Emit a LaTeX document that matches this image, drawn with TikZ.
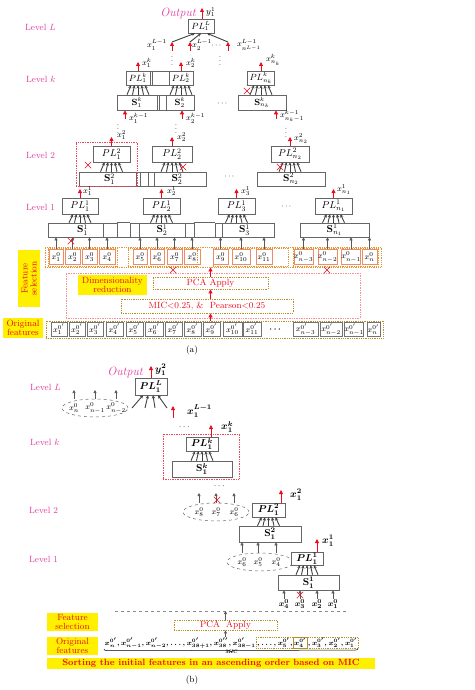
\documentclass[tikz,border=0pt]{standalone}
\usepackage{amsmath,amssymb,bm}
\usepackage{tikz}
\usetikzlibrary{arrows.meta,positioning,shapes.geometric,shapes.misc,fit,decorations.pathreplacing}
\definecolor{lvlM}{RGB}{225,60,160}
\definecolor{arrR}{RGB}{235,10,30}
\definecolor{hiY}{RGB}{255,240,0}
\definecolor{ftO}{RGB}{240,140,100}
\definecolor{grpO}{RGB}{225,150,50}
\definecolor{olvY}{RGB}{180,145,40}

% five converging arrows from a window box up into its PL box
\newcommand{\fanup}[2]{%
  \foreach \a/\b in {-11/-7,-5.5/-3.5,0/0,5.5/3.5,11/7}
    \draw[fan] ([xshift=\a]#1.south |- #2.north) -- ([xshift=\b]#1.south);}

\begin{document}
\begin{tikzpicture}[
  x=1pt, y=-1pt,
  lvl/.style={font=\small, text=lvlM, anchor=west, inner sep=0pt},
  plbox/.style={rectangle, draw=black!60, line width=0.6pt, fill=white, inner sep=0pt, minimum height=15},
  sbox/.style={rectangle, draw=black!60, line width=0.6pt, fill=white, inner sep=0pt, minimum height=14},
  boxline/.style={draw=black!60, line width=0.6pt},
  fan/.style={draw=black!75, line width=0.9pt, -{Stealth[length=3.2pt,width=3.2pt]}},
  redup/.style={draw=arrR, line width=0.8pt, -{Triangle[length=4pt,width=4pt]}},
  grayup/.style={draw=black!65, line width=0.6pt, -{Triangle[length=3pt,width=3pt]}},
  lab/.style={font=\footnotesize, inner sep=0pt},
  xout/.style={cross out, draw=arrR, line width=0.5pt, minimum size=6pt, inner sep=0pt},
  ftbox/.style={rectangle, draw=ftO, line width=0.5pt, minimum height=15, inner sep=0pt, font=\footnotesize},
  ogbox/.style={rectangle, draw=black!55, line width=0.5pt, minimum height=14, inner sep=0pt, font=\footnotesize},
  grp/.style={rectangle, draw=grpO, densely dotted, line width=0.8pt, minimum height=18},
  ydot/.style={rectangle, draw=olvY, densely dotted, line width=0.8pt, inner sep=0pt},
  reddot/.style={rectangle, draw=arrR!75, densely dotted, line width=0.7pt, inner sep=0pt},
  hilite/.style={rectangle, fill=hiY, text=arrR, font=\small, align=center, inner sep=1pt},
  ellgrp/.style={ellipse, draw=black!60, dashed, line width=0.5pt, minimum width=66, minimum height=18},
  outtx/.style={font=\large\itshape, text=lvlM, anchor=east, inner sep=0pt}]

  \useasboundingbox (0,0) rectangle (474,690);

  % ================= (a) =================
  \node[lvl] (lvLa) at (25,27) {Level $L$};
  \node[lvl] (lvka) at (26,79) {Level $k$};
  \node[lvl] (lv2a) at (26,155) {Level 2};
  \node[lvl] (lv1a) at (26,207) {Level 1};

  % level L
  \node[plbox, minimum width=26, minimum height=14, font=\small] (plLa) at (201,26) {$PL_1^L$};
  \coordinate (outa) at (202,8);
  \draw[redup] (plLa.north -| outa) -- (outa);
  \node[outtx] (outtxa) at (196,13) {Output};
  \node[lab, anchor=west, font=\small] (ya) at (206,12) {$y_1^1$};
  \foreach \n/\x/\e in {1/172/-6,2/190/0,3/228/6}{
    \coordinate (ta\n) at (\x,42);
    \coordinate (ba\n) at (\x,51);
    \draw[redup] (ba\n) -- (ta\n);
    \draw[fan] (ta\n) -- ([xshift=\e]plLa.south);
  }
  \node[lab] (la1) at (157,45) {$x_1^{L-1}$};
  \node[lab] (la2) at (202,45) {$x_2^{L-1}$};
  \node[lab] (la3) at (217,46) {$\cdots$};
  \node[lab] (la4) at (249,45) {$x_{n^{L-1}}^{L-1}$};
  \node[lab] (vda1) at (172,58) {$\vdots$};
  \node[lab] (vda2) at (220,58) {$\vdots$};

  % level k
  \node[plbox, minimum width=24, minimum height=14, font=\small] (pl1k) at (138,78) {$PL_1^k$};
  \node[plbox, minimum width=19, minimum height=14] (gapk) at (159.5,78) {};
  \node[plbox, minimum width=24, minimum height=14, font=\small] (pl2k) at (181,78) {$PL_2^k$};
  \node[plbox, minimum width=27, minimum height=14, font=\small] (plnk) at (261,78) {$PL_{n_k}^k$};
  \draw[boxline] ([xshift=2.5]gapk.north west) -- ([xshift=2.5]gapk.south west);
  \node[sbox, minimum width=40, minimum height=15, font=\small] (s1k) at (137,102.5) {$\mathbf{S}_1^k$};
  \node[sbox, minimum width=9, minimum height=15] (gsk) at (161.5,102.5) {};
  \node[sbox, minimum width=28, minimum height=15, font=\small] (s2k) at (180,102.5) {$\mathbf{S}_2^k$};
  \node[sbox, minimum width=48, minimum height=15, font=\small] (snk) at (262,102.5) {$\mathbf{S}_{n_k}^k$};
  \draw[boxline] ([xshift=2.5]gsk.north west) -- ([xshift=2.5]gsk.south west);
  \node[lab] (dtk) at (223,104) {$\cdots$};
  \fanup{pl1k}{s1k}
  \fanup{pl2k}{s2k}
  \fanup{plnk}{snk}
  \node[xout] (xk) at (247,91) {};
  \coordinate (oyk) at (0,62);
  \foreach \p in {pl1k,pl2k,plnk}
    \draw[redup] (\p.north) -- (\p.north |- oyk);
  \node[lab, anchor=west] (o1k) at (142,63) {$x_1^k$};
  \node[lab, anchor=west] (o2k) at (186,63) {$x_2^k$};
  \node[lab, anchor=west] (onk) at (266,60) {$x_{n_k}^k$};
  \coordinate (iyk) at (0,119);
  \foreach \s/\d in {s1k/-12,s2k/2,snk/14}
    \draw[redup] ([xshift=\d]\s.south |- iyk) -- ([xshift=\d]\s.south);
  \node[lab, anchor=west] (i1k) at (129,118) {$x_1^{k-1}$};
  \node[lab, anchor=west] (i2k) at (186,118) {$x_2^{k-1}$};
  \node[lab, anchor=west] (ink) at (280,116) {$x_{n_k-1}^{k-1}$};
  \node[lab] (vdk1) at (118,126) {$\vdots$};
  \node[lab] (vdk2) at (176,126) {$\vdots$};
  \node[lab] (vdk3) at (286,130) {$\vdots$};

  % level 2
  \node[plbox, minimum width=37, minimum height=16] (pl12) at (111.5,154) {$PL_1^2$};
  \node[plbox, minimum width=40, minimum height=16] (pl22) at (172,154) {$PL_2^2$};
  \node[plbox, minimum width=38, minimum height=16] (pln2) at (290,154) {$PL_{n_2}^2$};
  \node[sbox, minimum width=61] (s12) at (109.5,179) {$\mathbf{S}_1^2$};
  \node[sbox, minimum width=8] (gs2) at (144,179) {};
  \node[sbox, minimum width=58] (s22) at (177,179) {$\mathbf{S}_2^2$};
  \node[sbox, minimum width=68] (sn2) at (291,179) {$\mathbf{S}_{n_2}^2$};
  \draw[boxline] ([xshift=-4]s12.north east) -- ([xshift=-4]s12.south east);
  \draw[boxline] ([xshift=7]s22.north west) -- ([xshift=7]s22.south west);
  \node[lab] (dt2) at (230,177) {$\cdots$};
  \fanup{pl12}{s12}
  \fanup{pl22}{s22}
  \fanup{pln2}{sn2}
  \node[reddot, minimum width=61, minimum height=44] (win2) at (106.5,164) {};
  \node[xout] (x2a) at (88,165) {};
  \node[xout] (x2b) at (183,167) {};
  \node[xout] (x2c) at (280,167) {};
  \coordinate (oy2) at (0,137);
  \foreach \p in {pl12,pl22,pln2}
    \draw[redup] (\p.north) -- (\p.north |- oy2);
  \node[lab, anchor=west] (o12) at (117,135) {$x_1^2$};
  \node[lab, anchor=west] (o22) at (177,137) {$x_2^2$};
  \node[lab, anchor=west] (on2) at (294,139) {$x_{n_2}^2$};

  % level 1
  \node[plbox, minimum width=36, minimum height=16] (pl11) at (80,206) {$PL_1^1$};
  \node[plbox, minimum width=37, minimum height=16] (pl21) at (161.5,206) {$PL_2^1$};
  \node[plbox, minimum width=37, minimum height=16] (pl31) at (236.5,206) {$PL_3^1$};
  \node[plbox, minimum width=37, minimum height=16] (pln1) at (333.5,206) {$PL_{n_1}^1$};
  \node[lab] (dt1) at (287,207) {$\cdots$};
  \node[sbox, minimum width=69] (s11) at (82.5,230) {$\mathbf{S}_1^1$};
  \node[sbox, minimum width=64] (s21) at (162,230) {$\mathbf{S}_2^1$};
  \node[sbox, minimum width=59] (s31) at (244.5,230) {$\mathbf{S}_3^1$};
  \node[sbox, minimum width=69] (sn1) at (334.5,230) {$\mathbf{S}_{n_1}^1$};
  \draw[boxline] (s11.north east) -- (s21.north west) (s11.south east) -- (s21.south west);
  \draw[boxline] (s21.north east) -- (s31.north west) (s21.south east) -- (s31.south west);
  \draw[boxline] ([xshift=-14]s11.north east) -- ([xshift=-14]s11.south east);
  \draw[boxline] ([xshift=10]s21.north west) -- ([xshift=10]s21.south west);
  \draw[boxline] ([xshift=-9]s21.north east) -- ([xshift=-9]s21.south east);
  \draw[boxline] ([xshift=8]s31.north west) -- ([xshift=8]s31.south west);
  \fanup{pl11}{s11}
  \fanup{pl21}{s21}
  \fanup{pl31}{s31}
  \fanup{pln1}{sn1}
  \coordinate (oy1) at (0,189);
  \foreach \p in {pl11,pl21,pl31,pln1}
    \draw[redup] (\p.north) -- (\p.north |- oy1);
  \node[lab, anchor=west] (o11) at (83,191) {$x_1^1$};
  \node[lab, anchor=west] (o21) at (167,191) {$x_2^1$};
  \node[lab, anchor=west] (o31) at (241,191) {$x_3^1$};
  \node[lab, anchor=west] (on1) at (337,190) {$x_{n_1}^1$};

  % selected features
  \node[grp, minimum width=336, minimum height=20] (fsel) at (213,257) {};
  \foreach \n/\x/\w in {g1/82.5/69,g2/162.5/69,g3/250.5/75,g4/335.5/85}
    \node[grp, minimum width=\w] (\n) at (\x,257) {};
  \foreach \n/\x/\w/\lb in {f1/56/14/1,f2/72.5/15/2,f3/89.5/15/3,f4/107/16/4,
      f5/140/14/5,f6/157/14/6,f7/174.5/15/7,f8/192/16/8,f9/220.5/15/9,
      f10/241/18/10,f11/264/16/11,fa/303.5/19/n-3,fb/327.5/19/n-2,fc/351/18/n-1,fd/369.5/15/n}
    \node[ftbox, minimum width=\w] (\n) at (\x,257) {$x_{\lb}^0$};
  \foreach \f/\s in {f1/s11,f2/s11,f3/s11,f4/s11,f5/s21,f6/s21,f7/s21,f8/s21,
      f9/s31,f10/s31,f11/s31,fa/sn1,fb/sn1,fc/sn1,fd/sn1}
    \draw[grayup] (\f.north) -- (\f.north |- \s.south);
  \node[xout] (xf2) at (71,241) {};
  \node[xout] (xg1) at (173,270) {};
  \node[xout] (xg2) at (327,270) {};

  % dimensionality reduction
  \node[reddot, draw=arrR!45, minimum width=294, minimum height=45] (dimr) at (213,295.5) {};
  \node[hilite, minimum width=69, minimum height=20] (dimtx) at (112.5,285) {Dimensionality\\[-2pt]reduction};
  \node[ydot, minimum width=115, minimum height=12, text=arrR, font=\small] (pca) at (210.5,283) {PCA Apply};
  \node[ydot, minimum width=172, minimum height=14, text=arrR, font=\small] (mic) at (207,306) {MIC$<$0.25, \&\ \ Pearson$<$0.25};
  \node[hilite, rotate=90, minimum width=57, minimum height=22] (fsl) at (29,278.5) {Feature\\[-2pt]selection};
  \node[hilite, minimum width=40, minimum height=20] (ogl) at (23,328) {Original\\[-2pt]features};

  % original features
  \node[ydot, minimum width=337, minimum height=17] (orig) at (214.5,329.5) {};
  \foreach \n/\x/\w/\lb in {o1/59/16/1,o2/77/16/2,o3/95/16/3,o4/114.5/17/4,o5/134.5/17/5,
      o6/154/18/6,o7/173.5/17/7,o8/192.5/17/8,o9/211.5/17/9,o10/232.5/19/10,o11/252/18/11,
      oa/305.5/25/n-3,ob/331/22/n-2,oc/354/18/n-1,od/373.5/13/n}
    \node[ogbox, minimum width=\w] (\n) at (\x,329.5) {$x_{\lb}^{0'}$};
  \node[lab] (odt) at (276,330) {$\boldsymbol{\cdots}$};
  \draw[redup] (pca.north) -- (pca.north |- fsel.south);
  \draw[redup] (mic.north -| pca) -- (pca.south);
  \draw[redup] (orig.north -| pca) -- (mic.south -| pca);
  \node[font=\small] (capa) at (192,350) {(a)};

  % ================= (b) =================
  \node[lvl] (lvLb) at (30,387) {Level $L$};
  \node[lvl] (lvkb) at (30,442) {Level $k$};
  \node[lvl] (lv2b) at (29,510) {Level 2};
  \node[lvl] (lv1b) at (29,559) {Level 1};

  % level L
  \node[plbox, minimum width=32, minimum height=17, font=\boldmath] (plLb) at (151,386.5) {$PL_1^L$};
  \coordinate (outb) at (151,366);
  \draw[redup] (plLb.north) -- (outb);
  \node[outtx] (outtxb) at (143,372) {Output};
  \node[lab, anchor=west, font=\normalsize\boldmath] (yb) at (155,370) {$y_1^2$};
  \node[ellgrp] (e1) at (95,408) {};
  \node[lab] (e1a) at (74,408) {$x_n^0$};
  \node[lab] (e1b) at (95,408) {$x_{n-1}^0$};
  \node[lab] (e1c) at (116,408) {$x_{n-2}^0$};
  \coordinate (tyL) at (0,390);
  \foreach \e in {e1a,e1b,e1c}
    \draw[grayup] (\e |- e1.north) -- (\e |- tyL);
  \coordinate (fyL) at (0,408);
  \foreach \a/\b in {-19/-8,-6/-3,4/2,16/7}
    \draw[fan] ([xshift=\a]plLb.south |- fyL) -- ([xshift=\b]plLb.south);
  \coordinate (rb1) at (173,418);
  \coordinate (rb1t) at (173,406);
  \draw[redup] (rb1) -- (rb1t);
  \node[lab, anchor=west, font=\normalsize\boldmath] (lb1) at (187,411) {$x_1^{L-1}$};
  \node[lab, font=\small] (dtb1) at (185,427) {$\cdots$};

  % level k
  \node[plbox, minimum width=32, minimum height=14, font=\boldmath] (plkb) at (202,444) {$PL_1^k$};
  \node[sbox, minimum width=60, minimum height=16, font=\boldmath] (skb) at (202,469) {$\mathbf{S}_1^k$};
  \fanup{plkb}{skb}
  \node[reddot, minimum width=76, minimum height=45] (wink) at (201,456.5) {};
  \coordinate (oykb) at (0,425);
  \draw[redup] ([xshift=9]plkb.north) -- ([xshift=9]plkb.north |- oykb);
  \node[lab, anchor=west, font=\normalsize\boldmath] (lkb) at (221,427) {$x_1^k$};
  \node[lab, font=\small] (dtb2) at (220,486) {$\cdots$};

  % level 2
  \node[ellgrp] (e2) at (216,512) {};
  \node[lab] (e2a) at (199,512) {$x_8^0$};
  \node[lab] (e2b) at (216,512) {$x_7^0$};
  \node[lab] (e2c) at (234,512) {$x_6^0$};
  \coordinate (ty2) at (0,493);
  \foreach \e in {e2a,e2b,e2c}
    \draw[grayup] (\e |- e2.north) -- (\e |- ty2);
  \node[xout] (xb2) at (217,500) {};
  \node[plbox, minimum width=33, minimum height=14, font=\boldmath] (pl2b) at (268.5,510) {$PL_1^2$};
  \node[sbox, minimum width=62, minimum height=16, font=\boldmath] (s2b) at (270,534) {$\mathbf{S}_1^2$};
  \fanup{pl2b}{s2b}
  \coordinate (oy2b) at (0,490);
  \draw[redup] ([xshift=12.5]pl2b.north) -- ([xshift=12.5]pl2b.north |- oy2b);
  \node[lab, anchor=west, font=\normalsize\boldmath] (l2b) at (290,495) {$x_1^2$};

  % level 1
  \node[ellgrp] (e3) at (260,562) {};
  \node[lab] (e3a) at (242,562) {$x_6^0$};
  \node[lab] (e3b) at (258,562) {$x_5^0$};
  \node[lab] (e3c) at (276,562) {$x_4^0$};
  \foreach \e in {e3a,e3b,e3c}
    \draw[grayup] (\e |- e3.north) -- (\e |- s2b.south);
  \node[plbox, minimum width=32, minimum height=13, font=\boldmath] (pl1b) at (307,558.5) {$PL_1^1$};
  \node[sbox, minimum width=61, minimum height=15, font=\boldmath] (s1b) at (308.5,582.5) {$\mathbf{S}_1^1$};
  \fanup{pl1b}{s1b}
  \coordinate (oy1b) at (0,539);
  \draw[redup] ([xshift=10]pl1b.north) -- ([xshift=10]pl1b.north |- oy1b);
  \node[lab, anchor=west, font=\normalsize\boldmath] (l1b) at (322,541) {$x_1^1$};
  \foreach \n/\x/\lb in {ib4/284/4,ib3/300/3,ib2/317/2,ib1/333/1}{
    \node[lab, font=\footnotesize\boldmath] (\n) at (\x,604) {$x_{\lb}^0$};
    \draw[grayup] (\n.north) -- (\n.north |- s1b.south);
  }
  \node[xout] (xb1) at (300,595) {};

  % feature selection
  \coordinate (dla) at (115,611);
  \coordinate (dlb) at (348,611);
  \draw[dashed, black!45, line width=0.6pt] (dla) -- (dlb);
  \node[hilite, minimum width=51, minimum height=18] (fslb) at (72.5,622) {Feature\\[-2pt]selection};
  \node[hilite, minimum width=51, minimum height=18] (oglb) at (72.5,646) {Original\\[-2pt]features};
  \node[ydot, minimum width=103, minimum height=10, text=arrR, font=\small] (pcab) at (225.5,625) {PCA\ \ Apply};
  \draw[grayup] (pcab.north) -- (pcab.north |- dla);

  % ranked feature sequence
  \node[font=\scriptsize\boldmath, anchor=west, inner sep=0.5pt] (sqa) at (104,643)
    {$x_n^{0'}, x_{n-1}^{0'}, x_{n-2}^{0'}, \ldots, x_{38+1}^{0'}, x_{38}^{0''}, x_{38-1}^{0'}$};
  \node[font=\scriptsize\boldmath, inner sep=0.5pt, right=0pt of sqa] (sqb) {$, \ldots, x_5^{0'},$};
  \node[font=\scriptsize\boldmath, inner sep=0.5pt, right=0pt of sqb] (sqc) {$x_4^{0'}$};
  \node[font=\scriptsize\boldmath, inner sep=0.5pt, right=0pt of sqc] (sqd) {$, x_3^{0'}, x_2^{0'}, x_1^{0'}$};
  \node[ydot, fit=(sqb)(sqd)] (tailb) {};
  \node[rectangle, draw=olvY, line width=0.5pt, inner sep=0pt, fit=(sqc)] (x4b) {};
  \draw[grayup] (sqa.north -| pcab) -- (pcab.south);
  \draw[decorate, decoration={brace, mirror, amplitude=3pt}, line width=0.5pt]
    (sqa.south west) -- (sqd.south east) node[midway, below=1pt, font=\tiny\bfseries\itshape, inner sep=0pt] (micb) {MIC};
  \node[hilite, minimum width=328, minimum height=11, font=\small\bfseries] (sortb) at (211,663.5)
    {Sorting the initial features in an ascending order based on MIC};
  \node[font=\small] (capb) at (192,680) {(b)};
\end{tikzpicture}
\end{document}
